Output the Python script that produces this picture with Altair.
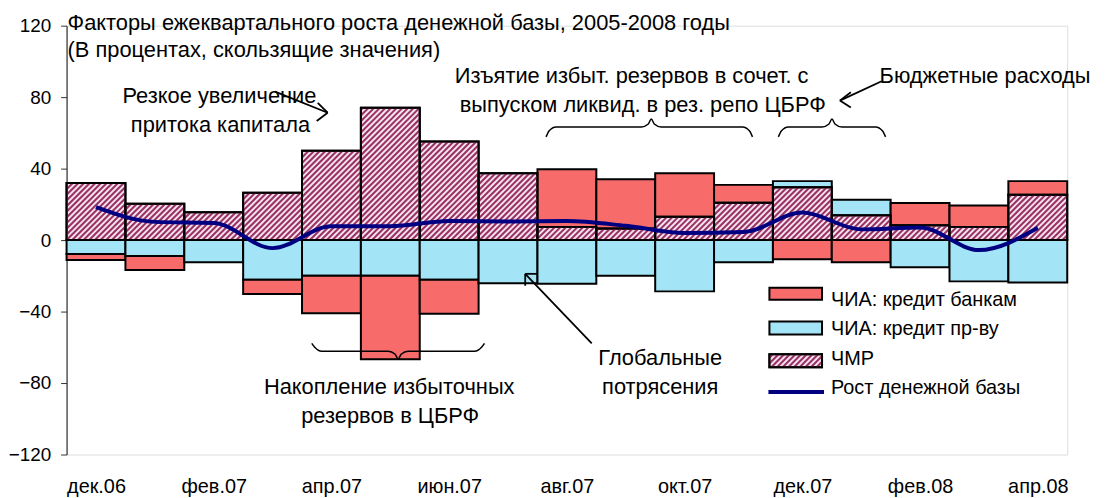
import altair as alt
import pandas as pd
import numpy as np

# ---------------- data ----------------
months = ["дек.06", "янв.07", "фев.07", "мар.07", "апр.07", "май.07", "июн.07", "июл.07",
          "авг.07", "сен.07", "окт.07", "ноя.07", "дек.07", "янв.08", "фев.08", "мар.08", "апр.08"]
tick_months = ["дек.06", "фев.07", "апр.07", "июн.07", "авг.07", "окт.07", "дек.07", "фев.08", "апр.08"]
chmr = [32.0, 20.4, 15.6, 26.5, 50.0, 74.0, 55.2, 37.4, 7.4, 6.5, 13.0, 20.9, 29.6, 13.9, 8.3, 7.4, 25.4]
credit_banks = [-3.3, -7.8, 0.0, -8.0, -21.0, -46.7, -19.0, 0.0, 32.2, 27.6, 24.4, 10.0,
                -10.7, -12.4, 12.4, 12.0, 7.6]
credit_gov = [-7.8, -8.9, -12.4, -22.2, -20.0, -20.0, -22.2, -24.1, -24.4, -20.0, -28.7, -12.4,
              3.4, 8.7, -15.2, -23.1, -23.7]
base_growth = [18.5, 10.2, 9.6, -4.5, 7.8, 7.8, 10.7, 10.4, 10.7, 8.0, 4.0, 4.5, 15.4, 6.0, 7.0, -5.6, 6.9]
y_ticks = [-120, -80, -40, 0, 40, 80, 120]

S_BANKS = "ЧИА: кредит банкам"
S_GOV = "ЧИА: кредит пр-ву"
S_CHMR = "ЧМР"
S_LINE = "Рост денежной базы"

title_lines = ["Факторы ежеквартального роста денежной базы, 2005-2008 годы",
               "(В процентах, скользящие значения)"]

# ---------------- layout constants ----------------
PW, PH = 1008, 432
N = len(months)
BW = PW / N
PPU = PH / 240.0
X0P, Y0P = 67.0, 240.0   # page position of plot origin (x) and of the zero line (y)
FONT = "Liberation Sans"
FS = 22      # annotation text
FS_LEG = 20  # legend text
FS_AX = 19   # axis labels

C_BANKS = "#F76B6B"
C_GOV = "#A3E5F7"
C_CHMR_BG = "#F6E4EE"
C_STRIPE = "#993366"
C_LINE = "#000080"


def dx(px):
    return (px - X0P) / BW


def dy(py):
    return (Y0P - py) / PPU


# ---------------- stacked segments ----------------
rows = []
for i, m in enumerate(months):
    pos = neg = 0.0
    for name, arr in [(S_CHMR, chmr), (S_GOV, credit_gov), (S_BANKS, credit_banks)]:
        v = arr[i]
        if v == 0:
            continue
        if v > 0:
            y0, y1 = pos, pos + v
            pos = y1
        else:
            y0, y1 = neg, neg + v
            neg = y1
        rows.append(dict(month=m, series=name, x0=i, x1=i + 1, y0=y0, y1=y1))
bars_df = pd.DataFrame(rows)


def stripes(Xa, Xb, Ylo, Yhi, p=5.7):
    """diagonal hatch segments inside a rectangle given in plot pixels (y up from zero)."""
    out = []
    kmin = int(np.floor((Xa - Yhi) / p)) - 1
    kmax = int(np.ceil((Xb - Ylo) / p)) + 1
    for k in range(kmin, kmax + 1):
        c = k * p
        xa = max(Xa, c + Ylo)
        xb = min(Xb, c + Yhi)
        if xb - xa > 0.3:
            out.append(dict(sx=xa / BW, sy=(xa - c) / PPU, sx2=xb / BW, sy2=(xb - c) / PPU))
    return out


stripe_rows = []
for i, v in enumerate(chmr):
    stripe_rows += stripes(i * BW, (i + 1) * BW, 0.0, v * PPU)

chmr_df = pd.DataFrame(dict(x0=list(range(N)), x1=[i + 1 for i in range(N)], y0=[0.0] * N, y1=chmr))
line_df = pd.DataFrame(dict(xc=[i + 0.5 for i in range(N)], growth=base_growth))

# ---------------- legend (page pixels) ----------------
LX0, LX1 = 775, 828
legend_boxes = [
    (S_BANKS, 288, 300),
    (S_GOV, 322, 335),
    (S_CHMR, 355, 368),
]
leg_rect_rows = [dict(series=s, x=dx(LX0), x2=dx(LX1), y=dy(t), y2=dy(b)) for s, t, b in legend_boxes]
leg_stripes_df = pd.DataFrame(stripes(LX0 - X0P, LX1 - X0P, Y0P - 368, Y0P - 355))
stripe_df = pd.DataFrame(stripe_rows)

# ---------------- annotation texts ----------------
left_texts = [
    (title_lines[0], 68, 28),
    (title_lines[1], 68, 56),
    ("Изъятие избыт. резервов в сочет. с", 458, 82),
    ("выпуском ликвид. в рез. репо ЦБРФ", 463, 111),
    ("Бюджетные расходы", 886, 82),
]
legend_texts = [
    (S_BANKS, 837, 306),
    (S_GOV, 837, 336),
    (S_CHMR, 837, 366),
    (S_LINE, 837, 395),
]
center_texts = [
    ("Резкое увеличение", 221, 102),
    ("притока капитала", 222, 131),
    ("Накопление избыточных", 392, 395),
    ("резервов в ЦБРФ", 393, 424),
    ("Глобальные", 665, 366),
    ("потрясения", 665, 395),
]
lt_df = pd.DataFrame([dict(t=t, x=dx(x), y=dy(y)) for t, x, y in left_texts])
lg_df = pd.DataFrame([dict(t=t, x=dx(x), y=dy(y)) for t, x, y in legend_texts])
ct_df = pd.DataFrame([dict(t=t, x=dx(x), y=dy(y)) for t, x, y in center_texts])

arrow_segs = [
    (277, 90.5, 330, 111.7), (330, 111.7, 320, 101.7), (330, 111.7, 319, 120),
    (888, 80, 846, 99.5), (846, 99.5, 857, 91), (846, 99.5, 857, 106.5),
    (596, 344, 529, 274), (529, 274, 529, 286), (529, 274, 541.7, 274),
]
arrow_df = pd.DataFrame([dict(x=dx(a), y=dy(b), x2=dx(c), y2=dy(d)) for a, b, c, d in arrow_segs])


def brace(bid, x0, xc, x1, yend, yflat, ytip):
    s = 1 if ytip < yflat else -1
    pts = [(x0, yend), (x0 + 3, yflat + s * 4), (x0 + 10, yflat), (xc - 10, yflat),
           (xc - 3, yflat - s * 3), (xc, ytip), (xc + 3, yflat - s * 3), (xc + 10, yflat),
           (x1 - 10, yflat), (x1 - 3, yflat + s * 4), (x1, yend)]
    return [dict(id=bid, o=k, x=dx(px), y=dy(py)) for k, (px, py) in enumerate(pts)]


brace_df = pd.DataFrame(brace("b1", 550, 656, 758, 136, 126, 118)
                        + brace("b2", 784, 838, 892, 136, 126, 118)
                        + brace("b3", 314, 401, 488, 344, 352, 360))

leg_line_df = pd.DataFrame([dict(x=dx(774), x2=dx(830), y=dy(393))])

# ---------------- scales / axes ----------------
label_expr = "[" + ",".join("'%s'" % m for m in months) + "][floor(datum.value)]"
xs = alt.Scale(domain=[0, N], nice=False, zero=False)
ys = alt.Scale(domain=[-120, 120], nice=False, zero=False)
x_axis = alt.Axis(values=[i + 0.5 for i in range(0, N, 2)], labelExpr=label_expr, domain=False,
                  ticks=False, grid=False, labelPadding=22, labelFontSize=20, labelColor="black",
                  labelFont=FONT, title=None)
y_axis = alt.Axis(values=y_ticks, grid=False, domainColor="#333333", domainWidth=1.2,
                  tickColor="#333333", tickSize=6, labelPadding=10, labelFontSize=FS_AX,
                  labelColor="black", labelFont=FONT, title=None)

color_scale = alt.Scale(domain=[S_BANKS, S_GOV, S_CHMR], range=[C_BANKS, C_GOV, C_CHMR_BG])

bars = alt.Chart(bars_df).mark_rect(stroke="black", strokeWidth=2).encode(
    x=alt.X("x0:Q", scale=xs, axis=x_axis),
    x2="x1:Q",
    y=alt.Y("y0:Q", scale=ys, axis=y_axis),
    y2="y1:Q",
    fill=alt.Fill("series:N", scale=color_scale, legend=None),
)

legend_rects = alt.Chart(pd.DataFrame(leg_rect_rows)).mark_rect(stroke="black", strokeWidth=2).encode(
    x="x:Q", x2="x2:Q", y="y:Q", y2="y2:Q",
    fill=alt.Fill("series:N", scale=color_scale, legend=None),
)

hatch = alt.Chart(stripe_df).mark_rule(color=C_STRIPE, strokeWidth=2.1).encode(
    x="sx:Q", x2="sx2:Q", y="sy:Q", y2="sy2:Q")

leg_hatch = alt.Chart(leg_stripes_df).mark_rule(color=C_STRIPE, strokeWidth=2.1).encode(
    x="sx:Q", x2="sx2:Q", y="sy:Q", y2="sy2:Q")

chmr_outline = alt.Chart(chmr_df).mark_rect(fillOpacity=0, stroke="black", strokeWidth=2).encode(
    x="x0:Q", x2="x1:Q", y="y0:Q", y2="y1:Q")

legend_outline = alt.Chart(pd.DataFrame([leg_rect_rows[2]])).mark_rect(
    fillOpacity=0, stroke="black", strokeWidth=2).encode(x="x:Q", x2="x2:Q", y="y:Q", y2="y2:Q")

zero_rule = alt.Chart(pd.DataFrame(dict(a=[0], b=[N], z=[0]))).mark_rule(
    color="black", strokeWidth=2).encode(x="a:Q", x2="b:Q", y="z:Q")

growth_line = alt.Chart(line_df).mark_line(color=C_LINE, strokeWidth=4, interpolate="monotone").encode(
    x="xc:Q", y="growth:Q")

leg_line = alt.Chart(leg_line_df).mark_rule(color=C_LINE, strokeWidth=4).encode(
    x="x:Q", x2="x2:Q", y="y:Q")

txt_left = alt.Chart(lt_df).mark_text(align="left", baseline="alphabetic", font=FONT,
                                      fontSize=FS, color="black").encode(x="x:Q", y="y:Q", text="t:N")
txt_legend = alt.Chart(lg_df).mark_text(align="left", baseline="alphabetic", font=FONT,
                                        fontSize=FS_LEG, color="black").encode(x="x:Q", y="y:Q", text="t:N")
txt_center = alt.Chart(ct_df).mark_text(align="center", baseline="alphabetic", font=FONT,
                                        fontSize=FS, color="black").encode(x="x:Q", y="y:Q", text="t:N")

arrows = alt.Chart(arrow_df).mark_rule(color="black", strokeWidth=1.8).encode(
    x="x:Q", x2="x2:Q", y="y:Q", y2="y2:Q")

braces = alt.Chart(brace_df).mark_line(color="black", strokeWidth=1.5, interpolate="monotone").encode(
    x="x:Q", y="y:Q", detail="id:N", order="o:Q")

chart = alt.layer(
    bars, hatch, chmr_outline, zero_rule, growth_line,
    legend_rects, leg_hatch, legend_outline, leg_line,
    arrows, braces, txt_left, txt_legend, txt_center,
).properties(
    width=PW, height=PH,
    autosize=alt.AutoSizeParams(type="none"),
    padding={"left": 59, "top": 16, "right": 32, "bottom": 42},
).configure_view(stroke=None).configure(background="white")

chart.save("out.html", embed_options={"renderer": "svg", "actions": False})
